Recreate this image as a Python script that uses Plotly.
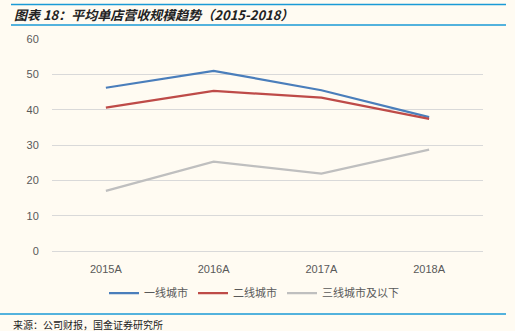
import plotly.graph_objects as go

categories = ["2015A", "2016A", "2017A", "2018A"]
tier1 = [46.2, 51.0, 45.5, 37.9]
tier2 = [40.6, 45.3, 43.4, 37.4]
tier3 = [17.0, 25.3, 21.9, 28.7]
series_names = ["一线城市", "二线城市", "三线城市及以下"]
colors = ["#4a7ebb", "#be4b48", "#bfbfbf"]

W, H = 515, 331
L, R, T, B = 52, 32, 39, 80
pw, ph = W - L - R, H - T - B

def px(x):
    return (x - L) / pw

def py(y):
    return (H - B - y) / ph

bg = "#fffbf2"
fig = go.Figure()
for name, vals, c in zip(series_names, [tier1, tier2, tier3], colors):
    fig.add_trace(go.Scatter(x=categories, y=vals, name=name, mode="lines",
                             line=dict(color=c, width=2.25)))

font_cn = "Noto Sans CJK SC, Microsoft YaHei, sans-serif"
fig.update_layout(
    width=W, height=H,
    margin=dict(l=L, r=R, t=T, b=B),
    paper_bgcolor=bg, plot_bgcolor=bg,
    font=dict(family=font_cn, size=11, color="#595959"),
    showlegend=True,
    legend=dict(orientation="h", x=px(254), xanchor="center", y=py(293), yanchor="middle",
                font=dict(size=11, color="#595959"), itemwidth=30,
                bgcolor="rgba(0,0,0,0)", tracegroupgap=0),
    xaxis=dict(range=[-0.5, 3.5], showgrid=False, zeroline=False, showline=False,
               ticks="outside", ticklen=8, tickcolor="rgba(0,0,0,0)",
               tickfont=dict(family="Liberation Sans, Arial, sans-serif", size=11, color="#595959")),
    yaxis=dict(range=[0, 60], dtick=10, showgrid=True, gridcolor="#d9d9d9", gridwidth=1,
               zeroline=True, zerolinecolor="#d9d9d9", zerolinewidth=1, showline=False,
               ticks="outside", ticklen=10, tickcolor="rgba(0,0,0,0)",
               tickfont=dict(family="Liberation Sans, Arial, sans-serif", size=11, color="#595959")),
    shapes=[
        dict(type="line", xref="paper", yref="paper", x0=px(11), x1=px(506), y0=py(4.5), y1=py(4.5),
             line=dict(color="#1a9ad6", width=1.5)),
        dict(type="line", xref="paper", yref="paper", x0=px(11), x1=px(506), y0=py(25), y1=py(25),
             line=dict(color="#1a9ad6", width=1.5)),
        dict(type="line", xref="paper", yref="paper", x0=px(0), x1=px(506), y0=py(314), y1=py(314),
             line=dict(color="#1a9ad6", width=1.5)),
    ],
    annotations=[
        dict(text="<b><i>图表 18：平均单店营收规模趋势（2015-2018）</i></b>", xref="paper", yref="paper",
             x=px(12), y=py(14.5), xanchor="left", yanchor="middle", showarrow=False,
             font=dict(family=font_cn, size=13, color="#222222")),
        dict(text="来源：公司财报，国金证券研究所", xref="paper", yref="paper",
             x=px(11), y=py(324), xanchor="left", yanchor="middle", showarrow=False,
             font=dict(family=font_cn, size=10, color="#222222")),
    ],
)

fig.write_html("out.html")
